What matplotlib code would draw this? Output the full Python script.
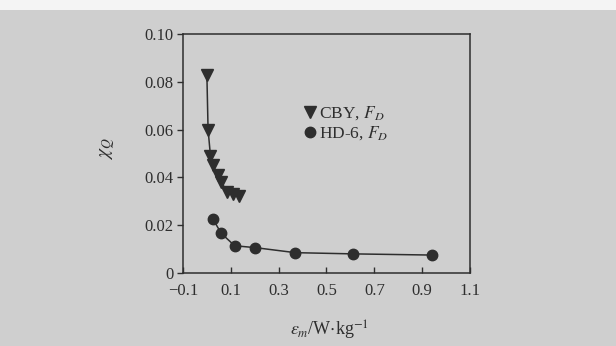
import matplotlib
matplotlib.use("Agg")
import matplotlib.pyplot as plt
from matplotlib.lines import Line2D
from matplotlib.patches import Rectangle

plt.rcParams['font.family'] = ['Liberation Serif', 'DejaVu Serif']
plt.rcParams['mathtext.fontset'] = 'stix'

# Data
cby_x = [0.0, 0.005, 0.015, 0.025, 0.045, 0.06, 0.085, 0.11, 0.135]
cby_y = [0.083, 0.060, 0.049, 0.045, 0.041, 0.038, 0.034, 0.033, 0.032]
hd_x = [0.025, 0.06, 0.116, 0.203, 0.37, 0.609, 0.94]
hd_y = [0.0226, 0.0166, 0.0114, 0.0106, 0.0085, 0.0080, 0.0075]
x_ticks = [-0.1, 0.1, 0.3, 0.5, 0.7, 0.9, 1.1]
x_tick_labels = ['\u22120.1', '0.1', '0.3', '0.5', '0.7', '0.9', '1.1']
y_ticks = [0, 0.02, 0.04, 0.06, 0.08, 0.10]
y_tick_labels = ['0', '0.02', '0.04', '0.06', '0.08', '0.10']
legend_labels = ['CBY, $F_D$', 'HD-6, $F_D$']

bg = '#cfcfcf'
ink = '#2e2e2e'

fig = plt.figure(figsize=(6.16, 3.46), dpi=100, facecolor=bg)
# white strip at the very top (page above the figure)
fig.patches.append(Rectangle((0, 0.97), 1, 0.03, transform=fig.transFigure,
                             facecolor='#f4f4f4', edgecolor='none', zorder=0))

ax = fig.add_axes([0.297, 0.211, 0.466, 0.691])
ax.set_facecolor(bg)

ax.plot(cby_x, cby_y, color=ink, lw=1.1, marker='v', ms=8.5, mfc=ink, mec=ink)
ax.plot(hd_x, hd_y, color=ink, lw=1.1, marker='o', ms=7.5, mfc=ink, mec=ink)

ax.set_xlim(-0.1, 1.1)
ax.set_ylim(0, 0.10)
ax.set_xticks(x_ticks)
ax.set_xticklabels(x_tick_labels)
ax.set_yticks(y_ticks)
ax.set_yticklabels(y_tick_labels)

for s in ax.spines.values():
    s.set_color(ink)
    s.set_linewidth(1.1)

ax.tick_params(axis='x', direction='in', length=4, width=1, colors=ink,
               labelsize=12, pad=7, labelcolor=ink)
ax.tick_params(axis='y', direction='out', length=4, width=1, colors=ink,
               labelsize=12, pad=3, labelcolor=ink)

ax.set_ylabel(r'$\chi_Q$', fontsize=14, color=ink, rotation=90)
ax.yaxis.set_label_coords(-0.23, 0.52)
ax.set_xlabel(r'$\varepsilon_m$/W$\cdot$kg$^{-1}$', fontsize=13, color=ink)
ax.xaxis.set_label_coords(0.51, -0.19)

handles = [Line2D([], [], color=ink, marker='v', ms=8.5, ls='none'),
           Line2D([], [], color=ink, marker='o', ms=7.5, ls='none')]
ax.legend(handles, legend_labels, loc='upper left', bbox_to_anchor=(0.395, 0.735),
          frameon=False, fontsize=12.5, handlelength=0.8, handletextpad=0.1,
          labelspacing=0.15, borderaxespad=0, labelcolor=ink)

fig.savefig('out.png', dpi=100, facecolor=bg)
